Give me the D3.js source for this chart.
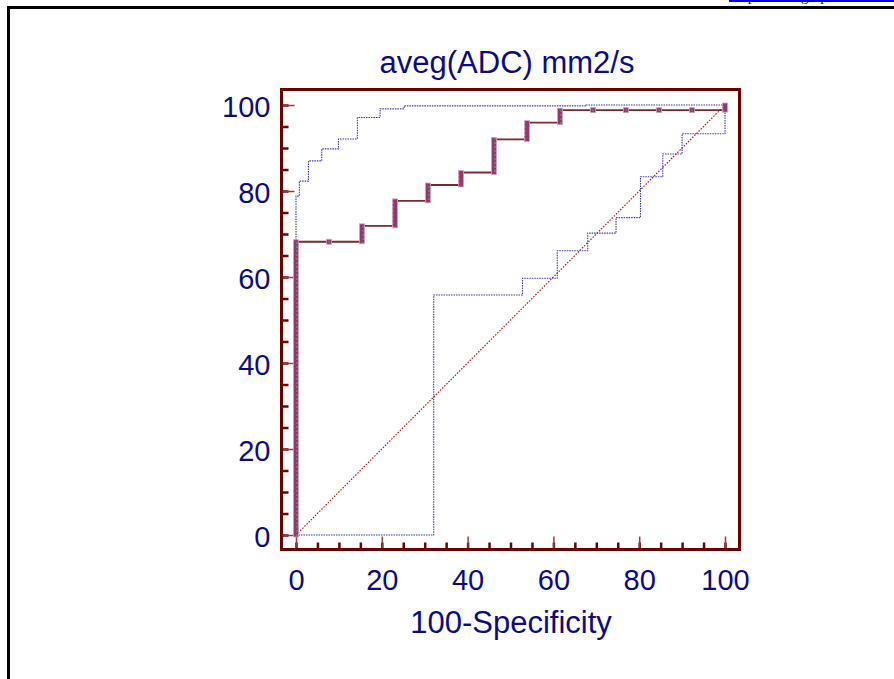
<!DOCTYPE html>
<html>
<head>
<meta charset="utf-8">
<script src="https://cdn.jsdelivr.net/npm/d3@7"></script>
<style>
  body { margin: 0; background: #fff; }
  svg { display: block; font-family: "Liberation Sans", Arial, sans-serif; }
  .txt { fill: #0c0c80; }
</style>
</head>
<body>
<div id="chart"></div>
<script>
const title = "aveg(ADC) mm2/s";
const xTitle = "100-Specificity";
const tickLabels = [0, 20, 40, 60, 80, 100];
const minorTicks = [0, 5, 10, 15, 20, 25, 30, 35, 40, 45, 50, 55, 60, 65, 70, 75, 80, 85, 90, 95, 100];

// ROC curve corners [100-specificity, sensitivity]
const roc = [
  [0, 0], [0, 68.2], [7.69, 68.2], [15.38, 68.2], [15.38, 71.9], [23.08, 71.9],
  [23.08, 77.7], [30.77, 77.7], [30.77, 81.4], [38.46, 81.4], [38.46, 84.3],
  [46.15, 84.3], [46.15, 92.0], [53.85, 92.0], [53.85, 95.9], [61.54, 95.9],
  [61.54, 98.8], [69.23, 98.8], [76.92, 98.8], [84.62, 98.8], [92.31, 98.8],
  [100, 98.8], [100, 100]
];

const upperCI = [
  [0, 0], [0, 78.8], [0.78, 78.8], [0.78, 82.3], [2.9, 82.3], [2.9, 87.0],
  [6.0, 87.0], [6.0, 89.8], [9.9, 89.8], [9.9, 92.1], [14.3, 92.1], [14.3, 97.1],
  [19.6, 97.1], [19.6, 99.1], [25.2, 99.1], [25.2, 99.8], [67.6, 99.8],
  [67.6, 100], [100, 100]
];

const lowerCI = [
  [0, 0], [32.1, 0], [32.1, 55.8], [52.8, 55.8], [52.8, 59.7], [60.9, 59.7],
  [60.9, 66.1], [68.0, 66.1], [68.0, 70.2], [74.6, 70.2], [74.6, 73.8],
  [80.3, 73.8], [80.3, 83.3], [85.5, 83.3], [85.5, 88.6], [90.0, 88.6],
  [90.0, 93.3], [100, 93.3], [100, 100]
];

const diagonal = [[0, 0], [100, 100]];

class Chart {
  constructor(el) {
    this.el = el;
    this.init();
  }

  init() {
    this.width = 894;
    this.height = 679;
    this.pad = 14.5;
    this.frameColor = "#6c0000";
    this.xScale = d3.scaleLinear().domain([0, 100]).range([296, 725]);
    this.yScale = d3.scaleLinear().domain([0, 100]).range([535, 105]);

    this.svg = d3
      .select(this.el)
      .append("svg")
      .attr("width", this.width)
      .attr("height", this.height);

    this.drawPage();
    this.drawAxis();
    this.drawLines();
    this.drawMarkers();
    this.drawFrame();
  }

  drawPage() {
    this.svg.append("rect")
      .attr("x", 8.5).attr("y", 7.5)
      .attr("width", this.width).attr("height", this.height)
      .attr("fill", "none").attr("stroke", "#000").attr("stroke-width", 3);

    // link at the very top, mostly scrolled out of view
    this.svg.append("text")
      .attr("x", 731).attr("y", 0.5)
      .attr("fill", "#0000ee")
      .style("font-family", "'Liberation Serif', serif")
      .style("font-size", "15px")
      .text("Export this graph");
    this.svg.append("line")
      .attr("x1", 729).attr("x2", 894).attr("y1", 1).attr("y2", 1)
      .attr("stroke", "#0000ee").attr("stroke-width", 2);

    this.svg.append("text")
      .attr("class", "txt")
      .attr("x", 507).attr("y", 73)
      .attr("text-anchor", "middle")
      .style("font-size", "31px")
      .text(title);

    this.svg.append("text")
      .attr("class", "txt")
      .attr("x", 511).attr("y", 633)
      .attr("text-anchor", "middle")
      .style("font-size", "31px")
      .text(xTitle);
  }

  drawAxis() {
    const bottom = this.yScale(0) + this.pad;
    const left = this.xScale(0) - this.pad;

    const minorX = d3.axisBottom(this.xScale).tickValues(minorTicks).tickSize(-7).tickFormat("");
    const minorY = d3.axisLeft(this.yScale).tickValues(minorTicks).tickSize(-7).tickFormat("");
    const majorX = d3.axisBottom(this.xScale).tickValues(tickLabels).tickSize(-13).tickPadding(20);
    const majorY = d3.axisLeft(this.yScale).tickValues(tickLabels).tickSize(-13).tickPadding(11);

    const gx = this.svg.append("g").attr("transform", `translate(0, ${bottom})`);
    gx.append("g").call(minorX);
    gx.append("g").attr("class", "major").call(majorX);

    const gy = this.svg.append("g").attr("transform", `translate(${left}, 0)`);
    gy.append("g").call(minorY);
    gy.append("g").attr("class", "major").call(majorY);

    this.svg.selectAll(".domain").remove();
    this.svg.selectAll(".tick line")
      .attr("stroke", this.frameColor).attr("stroke-width", 2.5);
    this.svg.selectAll(".major .tick line")
      .attr("stroke", "#9c3a3a").attr("stroke-width", 1.5);
    this.svg.selectAll(".major .tick text")
      .attr("class", "txt")
      .attr("fill", null)
      .style("font-size", "29px")
      .style("font-family", "'Liberation Sans', Arial, sans-serif");
    gy.selectAll(".major .tick text").attr("dy", "0.4em");
  }

  drawLines() {
    const line = d3.line().x(d => this.xScale(d[0])).y(d => this.yScale(d[1]));

    this.svg.append("path")
      .datum(diagonal)
      .attr("d", line)
      .attr("fill", "none")
      .attr("stroke", "#b01818").attr("stroke-width", 1.2)
      .attr("stroke-dasharray", "1.5,1.5");

    [upperCI, lowerCI].forEach(ci => {
      this.svg.append("path")
        .datum(ci)
        .attr("d", line)
        .attr("fill", "none")
        .attr("stroke", "#3a3aaa").attr("stroke-width", 1.1)
        .attr("stroke-dasharray", "1.5,1");
    });

    this.svg.append("path")
      .datum(roc)
      .attr("d", line)
      .attr("fill", "none")
      .attr("stroke", "#7a2a2e").attr("stroke-width", 1.8);
  }

  drawMarkers() {
    const defs = this.svg.append("defs");
    const pat = defs.append("pattern")
      .attr("id", "mk")
      .attr("patternUnits", "userSpaceOnUse")
      .attr("width", 6).attr("height", 4)
      .attr("x", 0).attr("y", this.yScale(0) - 2);
    pat.append("rect").attr("width", 6).attr("height", 4).attr("fill", "#9a356c");
    pat.append("rect").attr("x", 2).attr("y", 1).attr("width", 2).attr("height", 2).attr("fill", "#3e8e70");

    // vertical runs of operating points
    const runs = [];
    for (let i = 1; i < roc.length; i++) {
      if (roc[i][0] === roc[i - 1][0] && roc[i][1] !== roc[i - 1][1]) {
        runs.push([roc[i][0], roc[i - 1][1], roc[i][1]]);
      }
    }
    this.svg.append("g").selectAll("rect")
      .data(runs)
      .enter()
      .append("rect")
      .attr("x", d => this.xScale(d[0]) - 2.5)
      .attr("y", d => this.yScale(d[2]) - 2)
      .attr("width", 5)
      .attr("height", d => this.yScale(d[1]) - this.yScale(d[2]) + 4)
      .attr("fill", "url(#mk)")
      .attr("stroke", "#d9a0c0").attr("stroke-width", 0.8);

    // single points along horizontal runs
    const singles = roc.filter((d, i) =>
      i > 0 && i < roc.length - 1 &&
      roc[i - 1][1] === d[1] && roc[i + 1][1] === d[1]);
    const g = this.svg.append("g").selectAll("g")
      .data(singles)
      .enter()
      .append("g")
      .attr("transform", d => `translate(${this.xScale(d[0])}, ${this.yScale(d[1])})`);
    g.append("rect")
      .attr("x", -2.5).attr("y", -2.5).attr("width", 5).attr("height", 5)
      .attr("fill", "#9a356c").attr("stroke", "#d9a0c0").attr("stroke-width", 0.8);
    g.append("rect")
      .attr("x", -1).attr("y", -1).attr("width", 2).attr("height", 2)
      .attr("fill", "#3e8e70");
  }

  drawFrame() {
    const x0 = this.xScale(0) - this.pad;
    const x1 = this.xScale(100) + this.pad;
    const y0 = this.yScale(100) - 15.5;
    const y1 = this.yScale(0) + this.pad;
    this.svg.append("rect")
      .attr("x", x0).attr("y", y0)
      .attr("width", x1 - x0).attr("height", y1 - y0)
      .attr("fill", "none")
      .attr("stroke", this.frameColor).attr("stroke-width", 3);
  }
}

new Chart(document.getElementById("chart"));
</script>
</body>
</html>
